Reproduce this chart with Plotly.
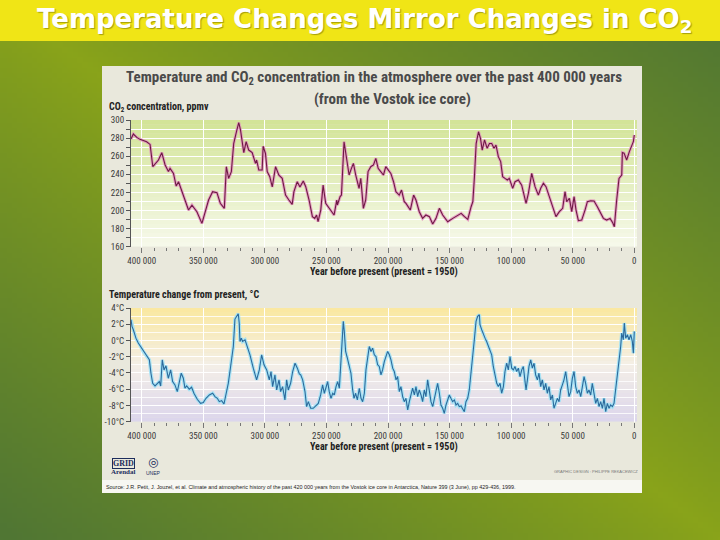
import zlib, struct, base64
import plotly.graph_objects as go

# ---------------- data ----------------
co2_year = [408700, 406800, 404000, 401400, 396000, 393200, 391000, 386400, 383700, 381000,
            378300, 377000, 374200, 372000, 370100, 367400, 364700, 362000, 359200, 355200,
            351100, 348400, 345700, 342400, 338900, 336200, 332900, 331300, 329400, 327200,
            325300, 323100, 321200, 319800, 317100, 315200, 313100, 310300, 307600, 306700,
            304900, 302200, 301400, 299500, 298100, 296000, 294000, 291300, 288600, 285900,
            283200, 280500, 277800, 276400, 273700, 271500, 268800, 266800, 264100, 261400,
            259500, 258000, 256800, 254600, 252700, 250600, 248700, 246500, 243800, 241600,
            241100, 238900, 237800, 235700, 233500, 231600, 229700, 228100, 226200, 223500,
            222100, 220000, 218100, 216200, 214000, 211800, 209900, 208000, 205900, 203700,
            201800, 199900, 197700, 195500, 193600, 190900, 189000, 186800, 185400, 181900,
            179200, 177300, 174600, 171900, 169200, 166400, 163700, 161000, 158300, 155600,
            151500, 147400, 143400, 140600, 137900, 135200, 132500, 131100, 129800, 128400,
            126500, 124900, 123500, 121600, 119500, 117600, 115800, 113900, 112300, 110400,
            108500, 106900, 105000, 103100, 101500, 100400, 98750, 96850, 94150, 91440,
            89500, 87900, 86000, 83300, 80600, 77900, 76000, 73800, 71700, 69000,
            66300, 63600, 60850, 58150, 56250, 54900, 52700, 50800, 48900, 47300,
            45400, 42700, 40000, 38100, 35400, 32700, 30000, 27300, 25100, 22400,
            19700, 17500, 16200, 14300, 12400, 10200, 9700, 8300, 6200, 4000,
            2100, 760, 0]
co2_ppmv = [279, 284.5, 280.8, 278.6, 276, 273, 248.4, 255.8, 263.9, 250.3,
            243, 246.6, 241, 227, 231.8, 220.8, 209.7, 200.5, 206, 198.7,
            185.8, 198.7, 211.6, 220.8, 219.7, 208, 202.4, 248.4, 235.5, 243,
            274, 287, 297, 289, 264, 276, 266.8, 264, 252, 255.8,
            244.7, 244.7, 271, 263, 243, 237.4, 226, 248.4, 239, 235.5,
            217, 211.6, 206.8, 220.8, 231.8, 226, 232.6, 226.3, 211.6, 193.2,
            191.3, 195, 187.6, 200.5, 228, 208, 204.2, 200.5, 195, 211.6,
            206.1, 215.3, 217, 276, 255.8, 239.2, 246.6, 252, 239.2, 224.5,
            235.5, 202.4, 211.6, 243, 248.4, 250.3, 257.6, 246.6, 243, 239.2,
            248.4, 244.7, 241, 231.8, 220.8, 217, 222.6, 209.7, 207.9, 200.5,
            217, 211.6, 198.7, 191.3, 195, 193.2, 185, 191.3, 202.4, 195,
            187.6, 191.3, 195, 196.8, 193.2, 190.2, 204.2, 209.7, 237.4, 274,
            287, 279.7, 266.8, 278, 268.7, 274, 274, 268.7, 272.3, 259.5,
            254, 237.4, 235.5, 233.7, 235.5, 230, 224.5, 231.8, 233.7, 228,
            217, 207.9, 218.9, 241, 226.3, 217, 224.5, 230, 226.3, 215.3,
            202.4, 193.2, 198.7, 202.4, 220.8, 209.7, 213.4, 198.7, 215.3, 200.5,
            188.7, 189.4, 200.5, 209.7, 210.8, 210.5, 204.2, 196.8, 191.3, 189.4,
            191.3, 186.5, 182, 211.6, 235.5, 239.2, 264, 263.4, 255.8, 265,
            270.5, 276, 283.4]

temp_year = [408700, 407900, 406800, 404700, 402800, 400900, 398700, 396000, 393800, 392500,
             391100, 389200, 387300, 385700, 384600, 383300, 381900, 380300, 378400, 376500,
             374900, 373000, 371100, 369500, 367900, 366200, 364900, 363500, 361400, 359500,
             357600, 354900, 352200, 350000, 347800, 345100, 342400, 340500, 338600, 337000,
             335100, 333200, 331800, 329700, 327800, 325600, 324300, 322900, 321600, 320800,
             320200, 319100, 318100, 316100, 314300, 312100, 309400, 306700, 304500, 302600,
             300700, 298500, 296400, 295000, 293700, 291800, 290400, 288500, 287200, 285600,
             283700, 282300, 281000, 279100, 277400, 275500, 273600, 272000, 270900, 269300,
             267400, 266100, 264700, 262800, 260700, 258500, 256600, 254700, 253100, 251700,
             250400, 249000, 247700, 246300, 244900, 243600, 242200, 240900, 239500, 238500,
             237100, 236300, 235500, 234400, 233000, 231400, 230100, 228700, 227600, 226300,
             224900, 223300, 221900, 220600, 219200, 217900, 216500, 215200, 213800, 212500,
             211100, 209800, 208400, 207100, 205700, 204400, 203000, 201600, 200300, 198900,
             197600, 196200, 194900, 193500, 192200, 190800, 189500, 188100, 186800, 185400,
             184000, 182700, 181300, 180000, 178600, 177300, 175900, 174600, 173200, 171900,
             170500, 169200, 167800, 166400, 165100, 163700, 162400, 161000, 159700, 158300,
             157000, 155600, 154300, 152900, 151600, 150200, 148900, 147500, 146100, 144800,
             143400, 142100, 140700, 139400, 138000, 136700, 135300, 134000, 132600, 131300,
             129900, 128500, 127200, 125800, 125300, 123900, 122600, 121200, 119900, 118500,
             117200, 115800, 114500, 113100, 111700, 110400, 109000, 107700, 106300, 105000,
             103600, 102300, 100900, 99560, 98200, 96900, 95500, 94150, 92800, 91400,
             90100, 88700, 87900, 86800, 85500, 84100, 82800, 81400, 80100, 78700,
             77400, 76000, 74700, 73300, 71950, 70600, 69250, 67900, 66500, 65200,
             63800, 62500, 61100, 59800, 58400, 57100, 55700, 54400, 53000, 51650,
             50300, 48900, 47600, 46200, 44900, 43500, 42200, 40800, 39500, 38100,
             36800, 35400, 34100, 32700, 31350, 30000, 28600, 27300, 25900, 24600,
             23200, 21900, 20500, 19200, 17800, 16450, 15100, 13750, 12400, 11050,
             10200, 8900, 8100, 7000, 5600, 4300, 2900, 1600, 760, 0]
temp_change = [2.56, 1.74, 1.32, 0.29, -0.32, -0.74, -1.35, -1.97, -2.38, -4.03,
               -5.27, -5.6, -5.27, -5.06, -5.6, -2.38, -3.62, -3.12, -4.65, -3.62,
               -5.06, -5.47, -6.3, -5.27, -4.03, -4.65, -5.88, -5.6, -6.0, -5.76,
               -6.5, -7.24, -7.74, -7.65, -7.12, -6.71, -6.5, -6.91, -7.12, -7.53,
               -7.4, -7.82, -6.83, -5.27, -3.2, -0.74, 2.64, 2.97, 3.3, 2.15,
               -0.12, 0.29, -0.12, 0.09, -0.74, -1.76, -3.41, -4.85, -3.62, -1.76,
               -3.0, -3.62, -4.85, -3.82, -5.68, -4.24, -6.09, -4.85, -6.3, -5.68,
               -7.32, -4.85, -6.09, -5.27, -3.82, -2.8, -3.41, -4.11, -4.24, -4.85,
               -6.3, -8.15, -7.53, -8.35, -8.35, -8.07, -7.74, -6.71, -5.47, -6.5,
               -5.88, -5.06, -6.3, -7.12, -6.5, -6.71, -5.68, -5.06, -5.88, -3.41,
               0.09, 2.35, 1.12, -1.35, -2.18, -3.2, -4.03, -6.09, -7.12, -6.5,
               -7.32, -5.88, -7.12, -7.53, -6.5, -3.62, -1.76, -0.74, -1.35, -0.94,
               -1.76, -1.97, -3.0, -3.2, -4.24, -3.62, -2.59, -1.97, -1.35, -1.76,
               -2.38, -3.41, -3.82, -4.85, -4.44, -6.3, -5.68, -6.91, -7.53, -7.12,
               -8.56, -7.53, -6.71, -5.88, -6.71, -5.68, -6.91, -6.09, -6.71, -7.53,
               -6.09, -6.91, -4.85, -6.5, -7.53, -8.15, -7.32, -6.5, -5.27, -6.5,
               -7.94, -8.35, -8.97, -7.94, -7.32, -6.71, -7.12, -7.53, -7.32, -7.94,
               -7.74, -8.15, -8.07, -8.35, -8.77, -7.53, -7.12, -6.09, -4.24, -2.38,
               0.09, 2.35, 2.97, 3.18, 1.94, 1.32, 0.71, 0.29, -0.12, -0.74,
               -1.35, -1.76, -3.2, -4.24, -5.27, -5.68, -5.27, -6.5, -5.68, -3.82,
               -2.8, -3.62, -1.97, -3.41, -3.62, -3.2, -3.82, -3.41, -4.44, -3.62,
               -3.2, -5.06, -6.09, -4.85, -3.2, -2.38, -3.41, -2.8, -4.24, -4.85,
               -4.03, -5.68, -4.85, -6.09, -5.27, -6.5, -5.68, -7.32, -6.71, -8.35,
               -7.74, -7.12, -7.53, -6.09, -5.47, -4.85, -3.82, -5.27, -6.91, -6.3,
               -4.65, -3.82, -5.68, -6.5, -6.09, -6.91, -5.68, -4.44, -5.27, -6.5,
               -6.09, -6.71, -5.27, -6.71, -7.74, -7.12, -8.15, -7.53, -8.35, -7.12,
               -8.77, -7.74, -8.35, -7.94, -8.15, -7.74, -6.09, -4.24, -2.38, -0.74,
               0.91, 0.09, 2.15, 0.29, 0.71, 0.09, 0.71, -0.12, -1.56, 1.12]

year_ticks = [400000, 350000, 300000, 250000, 200000, 150000, 100000, 50000, 0]
year_labels = ["400 000", "350 000", "300 000", "250 000", "200 000", "150 000", "100 000", "50 000", "0"]
co2_ticks = [160, 180, 200, 220, 240, 260, 280, 300]
temp_ticks = [4, 2, 0, -2, -4, -6, -8, -10]
temp_labels = ["4°C", "2°C", "0°C", "-2°C", "-4°C", "-6°C", "-8°C", "-10°C"]

W, H = 720, 540
def px(x): return x / W
def py(y): return 1 - y / H

# ---------------- slide background gradient (PNG data URI) ----------------
def png_uri(w, h, fn):
    rows = []
    for y in range(h):
        row = bytearray([0])
        for x in range(w):
            row.extend(fn(x, y))
        rows.append(bytes(row))
    raw = b"".join(rows)
    def chunk(t, d):
        return struct.pack(">I", len(d)) + t + d + struct.pack(">I", zlib.crc32(t + d) & 0xffffffff)
    png = (b"\x89PNG\r\n\x1a\n" + chunk(b"IHDR", struct.pack(">IIBBBBB", w, h, 8, 2, 0, 0, 0))
           + chunk(b"IDAT", zlib.compress(raw, 9)) + chunk(b"IEND", b""))
    return "data:image/png;base64," + base64.b64encode(png).decode()

OLIVE = (138, 164, 26)
DARK = (80, 118, 52)
def bg_pix(x, y, w=144, h=108):
    u = abs(x / (w - 1) - y / (h - 1))
    t = min(1.0, u) ** 0.9
    return tuple(int(OLIVE[i] * (1 - t) + DARK[i] * t) for i in range(3))
bg_uri = png_uri(144, 108, bg_pix)

def lerp(c1, c2, t):
    return "rgb(%d,%d,%d)" % tuple(round(c1[i] + (c2[i] - c1[i]) * t) for i in range(3))

fig = go.Figure()

# ---------------- traces ----------------
fig.add_trace(go.Scatter(x=co2_year, y=co2_ppmv, mode="lines", xaxis="x", yaxis="y",
                         line=dict(color="rgba(228,140,190,0.8)", width=3), hoverinfo="skip", showlegend=False))
fig.add_trace(go.Scatter(x=co2_year, y=co2_ppmv, mode="lines", xaxis="x", yaxis="y",
                         line=dict(color="#6e1a44", width=1.1), showlegend=False, name="CO2"))
fig.add_trace(go.Scatter(x=temp_year, y=temp_change, mode="lines", xaxis="x2", yaxis="y2",
                         line=dict(color="rgba(160,225,245,0.9)", width=3.5), hoverinfo="skip", showlegend=False))
fig.add_trace(go.Scatter(x=temp_year, y=temp_change, mode="lines", xaxis="x2", yaxis="y2",
                         line=dict(color="#2c6a9c", width=1.1), showlegend=False, name="Temperature"))

shapes = []
# title bar
shapes.append(dict(type="rect", xref="paper", yref="paper", x0=0, x1=1, y0=py(41), y1=1,
                   fillcolor="#f0e516", line=dict(width=0), layer="below"))
# chart panel
shapes.append(dict(type="rect", xref="paper", yref="paper", x0=px(102), x1=px(642), y0=py(480), y1=py(66),
                   fillcolor="#e9e8dc", line=dict(width=0), layer="below"))
shapes.append(dict(type="rect", xref="paper", yref="paper", x0=px(102), x1=px(642), y0=py(493), y1=py(480),
                   fillcolor="#f7f7f2", line=dict(width=0), layer="below"))

# plot-area gradients
top_c, bot_c = (210, 228, 150), (247, 249, 236)
n = 28
for i in range(n):
    v0 = 160 + 140 * i / n
    v1 = 160 + 140 * (i + 1) / n + 0.3
    t = (i + 0.5) / n
    shapes.append(dict(type="rect", xref="x domain", yref="y", x0=0, x1=1, y0=v0, y1=min(v1, 300),
                       fillcolor=lerp(bot_c, top_c, t), line=dict(width=0), layer="below"))
stops = [(-10, (219, 213, 236)), (-3, (244, 239, 231)), (4, (250, 232, 160))]
def temp_col(v):
    for (a, ca), (b, cb) in zip(stops[:-1], stops[1:]):
        if a <= v <= b:
            return lerp(ca, cb, (v - a) / (b - a))
    return lerp(stops[-1][1], stops[-1][1], 0)
n2 = 28
for i in range(n2):
    v0 = -10 + 14 * i / n2
    v1 = -10 + 14 * (i + 1) / n2 + 0.03
    shapes.append(dict(type="rect", xref="x2 domain", yref="y2", x0=0, x1=1, y0=v0, y1=min(v1, 4),
                       fillcolor=temp_col((v0 + v1) / 2), line=dict(width=0), layer="below"))

narrow = "Liberation Sans Narrow, Arial Narrow, Roboto Condensed, Liberation Sans, Arial"
tickfont = dict(family=narrow, size=9, color="#3a3a3a")

xcommon = dict(range=[408700, -2200], tickmode="array", tickvals=year_ticks, ticktext=year_labels,
               ticks="outside", ticklen=5, tickcolor="#777", tickfont=tickfont,
               showgrid=True, gridcolor="white", gridwidth=1, zeroline=False, showline=False,
               minor=dict(tickmode="linear", tick0=0, dtick=10000, ticks="outside", ticklen=3,
                          tickcolor="#777", showgrid=False),
               domain=[px(131), px(637)], fixedrange=True, automargin=False)

fig.update_layout(
    width=W, height=H, autosize=False,
    margin=dict(l=0, r=0, t=0, b=0, pad=0, autoexpand=False),
    paper_bgcolor="#7a9a22", plot_bgcolor="rgba(0,0,0,0)",
    showlegend=False,
    xaxis=dict(anchor="y", **xcommon),
    yaxis=dict(anchor="x", domain=[py(246.7), py(120)], range=[160, 300], tickmode="array",
               tickvals=co2_ticks, ticks="outside", ticklen=4, tickcolor="#555", tickfont=tickfont,
               showline=True, linecolor="#555", linewidth=1, showgrid=True, gridcolor="white",
               zeroline=False, automargin=False,
               minor=dict(tickmode="linear", tick0=160, dtick=10, ticks="outside", ticklen=4,
                          tickcolor="#555", showgrid=True, gridcolor="white"),
               fixedrange=True),
    xaxis2=dict(anchor="y2", **xcommon),
    yaxis2=dict(anchor="x2", domain=[py(421.7), py(308)], range=[-10, 4], tickmode="array",
                tickvals=temp_ticks, ticktext=temp_labels, ticks="outside", ticklen=4, tickcolor="#555",
                tickfont=tickfont, showline=True, linecolor="#555", linewidth=1, showgrid=True,
                gridcolor="white", zeroline=False, automargin=False,
                minor=dict(tickmode="linear", tick0=0, dtick=1, ticks="", showgrid=True,
                           gridcolor="rgba(255,255,255,0.8)"),
                fixedrange=True),
    shapes=shapes,
    images=[dict(source=bg_uri, xref="paper", yref="paper", x=0, y=1, sizex=1, sizey=1,
                 sizing="stretch", xanchor="left", yanchor="top", layer="below")],
)

dark = "#4a4a4a"
ann = []
ann.append(dict(text="<b>Temperature Changes Mirror Changes in CO<sub>2</sub></b>",
                x=px(364), y=py(21), xref="paper", yref="paper", showarrow=False,
                font=dict(family="DejaVu Sans, Liberation Sans, Arial", size=26, color="white",
                          shadow="1px 1px 1px rgba(90,90,0,0.5)"),
                xanchor="center", yanchor="middle"))
ann.append(dict(text="<b>Temperature and CO<sub>2</sub> concentration in the atmosphere over the past 400 000 years</b>",
                x=px(374), y=py(78), xref="paper", yref="paper", showarrow=False,
                font=dict(family=narrow, size=15, color=dark), xanchor="center", yanchor="middle"))
ann.append(dict(text="<b>(from the Vostok ice core)</b>",
                x=px(393), y=py(99), xref="paper", yref="paper", showarrow=False,
                font=dict(family=narrow, size=15, color=dark), xanchor="center", yanchor="middle"))
ann.append(dict(text="<b>CO<sub>2</sub> concentration, ppmv</b>",
                x=px(107), y=py(107), xref="paper", yref="paper", showarrow=False,
                font=dict(family=narrow, size=10, color="#222"), xanchor="left", yanchor="middle"))
ann.append(dict(text="<b>Temperature change from present, °C</b>",
                x=px(107), y=py(295), xref="paper", yref="paper", showarrow=False,
                font=dict(family=narrow, size=10, color="#222"), xanchor="left", yanchor="middle"))
for yy in (272, 447):
    ann.append(dict(text="<b>Year before present (present = 1950)</b>",
                    x=px(384), y=py(yy), xref="paper", yref="paper", showarrow=False,
                    font=dict(family=narrow, size=10, color="#222"), xanchor="center", yanchor="middle"))
# logos (as text)
ann.append(dict(text="<b>GRID</b>", x=px(123), y=py(463), xref="paper", yref="paper", showarrow=False,
                font=dict(family="Liberation Serif, serif", size=8, color="#1d2d5c"),
                bordercolor="#1d2d5c", borderwidth=1, borderpad=0, xanchor="center", yanchor="middle"))
ann.append(dict(text="<b>Arendal</b>", x=px(123), y=py(472), xref="paper", yref="paper", showarrow=False,
                font=dict(family="Liberation Serif, serif", size=7, color="#1d2d5c"),
                xanchor="center", yanchor="middle"))
ann.append(dict(text="<b>◎</b>", x=px(153), y=py(462), xref="paper", yref="paper", showarrow=False,
                font=dict(family="DejaVu Sans", size=12, color="#1d2d5c"), xanchor="center", yanchor="middle"))
ann.append(dict(text="UNEP", x=px(153), y=py(473), xref="paper", yref="paper", showarrow=False,
                font=dict(family="Liberation Sans", size=5, color="#1d2d5c"), xanchor="center", yanchor="middle"))
ann.append(dict(text="GRAPHIC DESIGN : PHILIPPE REKACEWICZ", x=px(640), y=py(471), xref="paper", yref="paper",
                showarrow=False, font=dict(family="Liberation Sans", size=4, color="#777"),
                xanchor="right", yanchor="middle"))
ann.append(dict(text="Source: J.R. Petit, J. Jouzel, et al. Climate and atmospheric history of the past 420 000 years "
                     "from the Vostok ice core in Antarctica, Nature 399 (3 June), pp 429-436, 1999.",
                x=px(104), y=py(487), xref="paper", yref="paper", showarrow=False,
                font=dict(family="Liberation Sans", size=5.4, color="#222"), xanchor="left", yanchor="middle"))
fig.update_layout(annotations=ann)

fig.write_html("out.html", config={"displayModeBar": False, "staticPlot": False},
               post_script="document.body.style.margin='0';document.body.style.padding='0';"
                           "document.documentElement.style.margin='0';")
